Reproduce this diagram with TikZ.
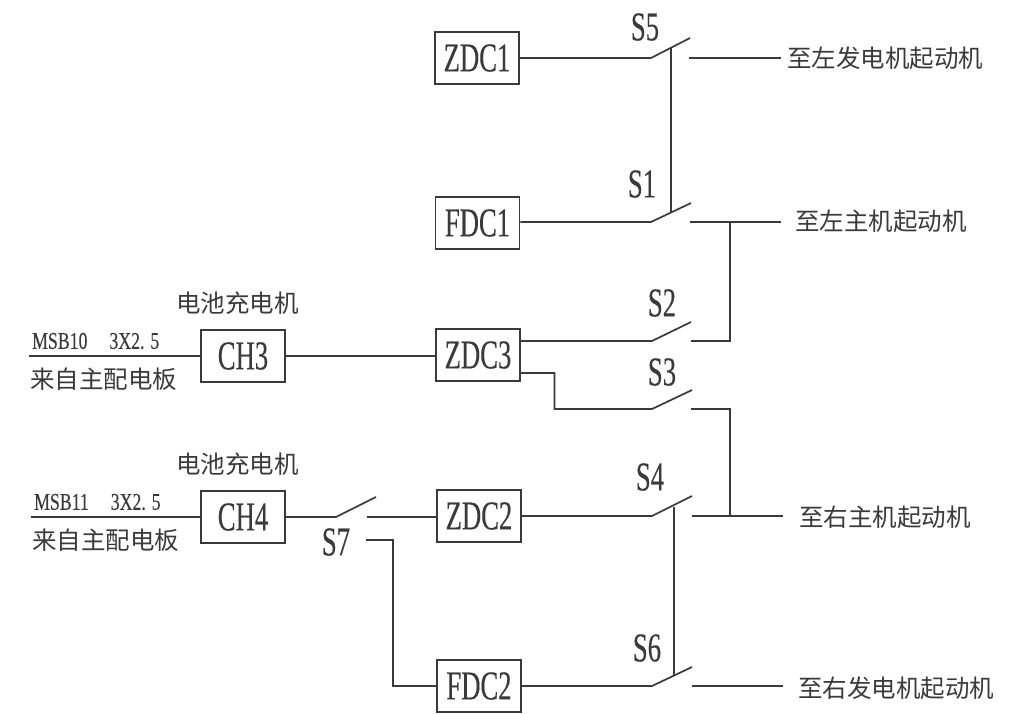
\documentclass[tikz,border=0pt]{standalone}
\usepackage{fontspec}
\newfontfamily\latf[FakeStretch=0.65,FakeBold=0.25]{Liberation Serif}
\newfontfamily\latw[FakeStretch=0.74,FakeBold=0.25]{Liberation Serif}
\newfontfamily\cjkf{Noto Sans CJK SC}
\definecolor{ink}{HTML}{3A3A3A}
\tikzset{
  wire/.style={draw=ink,line width=1.7pt,line cap=butt},
  unitbox/.style={draw=ink,line width=1.5pt,minimum width=84pt,minimum height=52pt,inner sep=0pt,text=ink,font=\latf\fontsize{41}{41}\selectfont},
  swlabel/.style={inner sep=0pt,text=ink,font=\latf\fontsize{41}{41}\selectfont},
  cjklabel/.style={inner sep=0pt,text=ink,font=\cjkf\fontsize{24.5}{25}\selectfont},
  cablelabel/.style={inner sep=0pt,text=ink,font=\latw\fontsize{24}{25}\selectfont}
}
\begin{document}
\begin{tikzpicture}[x=1pt,y=-1pt]
\useasboundingbox (0,0) rectangle (1024,713);
% boxes
\node[unitbox] (zdc1) at (477,58) {ZDC1};
\node[unitbox] (fdc1) at (477.5,223) {FDC1};
\node[unitbox] (zdc3) at (478,355) {ZDC3};
\node[unitbox] (zdc2) at (479,516) {ZDC2};
\node[unitbox] (fdc2) at (479,686) {FDC2};
\node[unitbox] (ch3) at (243,356) {CH3};
\node[unitbox] (ch4) at (243,517) {CH4};
% switch labels
\node[swlabel] (ls5) at (645,27) {S5};
\node[swlabel] (ls1) at (642,184) {S1};
\node[swlabel] (ls2) at (662,303) {S2};
\node[swlabel] (ls3) at (662,372) {S3};
\node[swlabel] (ls4) at (650,477) {S4};
\node[swlabel] (ls6) at (647,648) {S6};
\node[swlabel] (ls7) at (336,542) {S7};
% text labels
\node[cjklabel,anchor=west] (t1) at (787,58) {至左发电机起动机};
\node[cjklabel,anchor=west] (t2) at (795,221) {至左主机起动机};
\node[cjklabel,anchor=west] (t3) at (799,517) {至右主机起动机};
\node[cjklabel,anchor=west] (t4) at (798,688) {至右发电机起动机};
\node[cjklabel,anchor=west] (c3) at (176,303) {电池充电机};
\node[cjklabel,anchor=west] (c4) at (176,464) {电池充电机};
\node[cjklabel,anchor=west] (f3) at (30,379) {来自主配电板};
\node[cjklabel,anchor=west] (f4) at (32,540) {来自主配电板};
\node[cablelabel,anchor=west] (m3) at (32,341) {MSB10\hspace{22pt}3X2. 5};
\node[cablelabel,anchor=west] (m4) at (34,502) {MSB11\hspace{22pt}3X2. 5};
% free ends and switch points
\coordinate (in3) at (29,356);
\coordinate (in4) at (31,517);
\coordinate (s5a) at (651,58); \coordinate (s5b) at (690,38); \coordinate (s5c) at (689,58); \coordinate (o5) at (781,58);
\coordinate (s1a) at (651,222); \coordinate (s1b) at (691,203); \coordinate (s1c) at (690,222); \coordinate (o1) at (781,222);
\coordinate (s2a) at (652,341); \coordinate (s2b) at (691,322); \coordinate (s2c) at (691,341);
\coordinate (s3a) at (652,409); \coordinate (s3b) at (692,390); \coordinate (s3c) at (691,409);
\coordinate (s4a) at (652,516); \coordinate (s4b) at (692,496); \coordinate (s4c) at (692,516); \coordinate (o4) at (783,516);
\coordinate (s6a) at (652,686); \coordinate (s6b) at (692,667); \coordinate (s6c) at (692,686); \coordinate (o6) at (783,686);
\coordinate (s7a) at (336,517); \coordinate (s7b) at (376,497); \coordinate (s7c) at (367,517); \coordinate (s7d) at (366,540);
\coordinate (z3o) at (520,373); \coordinate (j1) at (730,222); \coordinate (j4) at (730,516);
\coordinate (v5t) at (671,48); \coordinate (v5b) at (671,212);
\coordinate (v4t) at (674,507); \coordinate (v4b) at (674,676);
% connectors
\draw[wire] (zdc1.east) -- (s5a) -- (s5b);
\draw[wire] (s5c) -- (o5);
\draw[wire] (fdc1.east |- s1a) -- (s1a) -- (s1b);
\draw[wire] (s1c) -- (o1);
\draw[wire] (v5t) -- (v5b);
\draw[wire] (zdc3.east |- s2a) -- (s2a) -- (s2b);
\draw[wire] (s2c) -- (s2c -| j1) -- (j1);
\draw[wire] (z3o) -- (554.5,373) -- (554.5,409) -- (s3a) -- (s3b);
\draw[wire] (s3c) -- (s3c -| j4) -- (j4);
\draw[wire] (in3) -- (ch3.west);
\draw[wire] (ch3.east) -- (zdc3.west |- ch3.east);
\draw[wire] (in4) -- (ch4.west);
\draw[wire] (ch4.east) -- (s7a) -- (s7b);
\draw[wire] (s7c) -- (zdc2.west |- s7c);
\draw[wire] (s7d) -- (393,540) -- (393,686) -- (fdc2.west);
\draw[wire] (zdc2.east |- s4a) -- (s4a) -- (s4b);
\draw[wire] (s4c) -- (o4);
\draw[wire] (fdc2.east) -- (s6a) -- (s6b);
\draw[wire] (s6c) -- (o6);
\draw[wire] (v4t) -- (v4b);
\end{tikzpicture}
\end{document}
